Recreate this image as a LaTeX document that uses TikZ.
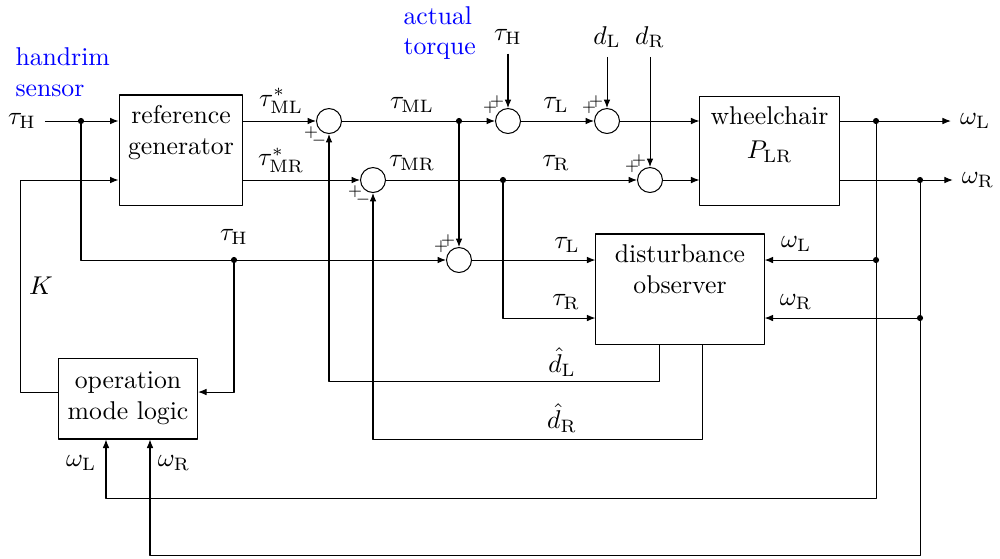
\documentclass[tikz,border=0pt]{standalone}
\usetikzlibrary{arrows.meta}
\begin{document}
\begin{tikzpicture}[x=0.389pt,y=-0.389pt,line join=round,>={Latex[length=3.3pt,width=2.6pt]},
  box/.style={draw,inner sep=0pt},
  sum/.style={draw,circle,minimum size=9.7pt,inner sep=0pt},
  sgn/.style={font=\fontsize{6.5}{7}\selectfont,inner sep=0pt},
  lbl/.style={inner sep=0.5pt},
  note/.style={blue,align=left,anchor=west,inner sep=0pt}]
\useasboundingbox (0,0) rectangle (1000,558);
% blocks
\node[box,minimum width=48.2pt,minimum height=42.8pt] (refgen) at (181,150) {};
\node[below=0.7pt,align=center] (refgentxt) at (refgen.north) {reference\\generator};
\node[box,minimum width=54.1pt,minimum height=42.4pt] (wheel) at (769.5,150.5) {};
\node[below=0.7pt,align=center] (wheeltxt) at (wheel.north) {wheelchair\\[1.2pt]$P_{\mathrm{LR}}$};
\node[box,minimum width=65.4pt,minimum height=42.8pt] (obs) at (680,289) {};
\node[below=0.7pt,align=center] (obstxt) at (obs.north) {disturbance\\observer};
\node[box,minimum width=54.1pt,minimum height=31.5pt,align=center] (opmode) at (128,398.5) {operation\\mode logic};
% summing points
\node[sum] (s1) at (329,121) {};
\node[sum] (s2) at (373,180) {};
\node[sum] (s3) at (508,121) {};
\node[sum] (s4) at (607,121) {};
\node[sum] (s5) at (650,180) {};
\node[sum] (s6) at (459,260) {};
\node[sgn] (s1a) at ([shift={(-18,12)}]s1) {$+$};
\node[sgn] (s1b) at ([shift={(-10,20)}]s1) {$-$};
\node[sgn] (s2a) at ([shift={(-18,12)}]s2) {$+$};
\node[sgn] (s2b) at ([shift={(-10,20)}]s2) {$-$};
\node[sgn] (s3a) at ([shift={(-18,-13)}]s3) {$+$};
\node[sgn] (s3b) at ([shift={(-11,-19)}]s3) {$+$};
\node[sgn] (s4a) at ([shift={(-18,-13)}]s4) {$+$};
\node[sgn] (s4b) at ([shift={(-11,-19)}]s4) {$+$};
\node[sgn] (s5a) at ([shift={(-18,-13)}]s5) {$+$};
\node[sgn] (s5b) at ([shift={(-11,-19)}]s5) {$+$};
\node[sgn] (s6a) at ([shift={(-18,-13)}]s6) {$+$};
\node[sgn] (s6b) at ([shift={(-11,-19)}]s6) {$+$};
% inputs and outputs
\node (tauH) at (22,121) {$\tau_{\mathrm{H}}$};
\node (tauHt) at (508,37) {$\tau_{\mathrm{H}}$};
\node (dL) at (607,37) {$d_{\mathrm{L}}$};
\node (dR) at (650,37) {$d_{\mathrm{R}}$};
\node (wL) at (975,121) {$\omega_{\mathrm{L}}$};
\node (wR) at (978,180) {$\omega_{\mathrm{R}}$};
\node[note] (handrim) at (15,72) {handrim\\sensor};
\node[note] (actual) at (403,33) {actual\\torque};
% branch points
\coordinate (j1) at (81,121);
\coordinate (j2) at (459,121);
\coordinate (j3) at (503,180);
\coordinate (j4) at (876,121);
\coordinate (j5) at (920,180);
\coordinate (j6) at (876,260);
\coordinate (j7) at (920,318);
\coordinate (j8) at (234,260);
\coordinate (wlb) at (106,498);
\coordinate (wrb) at (150,555);
\coordinate (dlc) at (659,381);
\coordinate (drc) at (702,439);
% forward paths
\draw[->] (tauH) -- (tauH -| refgen.west);
\draw[->] (refgen.east |- s1) -- (s1);
\draw[->] (refgen.east |- s2) -- (s2);
\draw[->] (s1) -- (s3);
\draw[->] (s2) -- (s5);
\draw[->] (s3) -- (s4);
\draw[->] (s4) -- (s4 -| wheel.west);
\draw[->] (s5) -- (s5 -| wheel.west);
\draw[->] (tauHt) -- (s3);
\draw[->] (dL) -- (s4);
\draw[->] (dR) -- (s5);
\draw[->] (wheel.east |- wL) -- (wL);
\draw[->] (wheel.east |- wR) -- (wR);
% feedback paths
\draw[->] (j4) |- (wlb) -- (wlb |- opmode.south);
\draw[->] (j5) |- (wrb) -- (wrb |- opmode.south);
\draw[->] (j6) -- (j6 -| obs.east);
\draw[->] (j7) -- (j7 -| obs.east);
\draw[->] (j1) |- (s6);
\draw[->] (j2) -- (s6);
\draw[->] (s6) -- (s6 -| obs.west);
\draw[->] (j3) |- (j7 -| obs.west);
\draw[->] (dlc |- obs.south) -- (dlc) -| (s1);
\draw[->] (drc |- obs.south) -- (drc) -| (s2);
\draw[->] (j8) |- ([shift={(0,-6.5)}]opmode.east);
\draw[->] ([shift={(0,-6.5)}]opmode.west) -- ++(-37,0) |- (refgen.west |- s2);
\foreach \j in {j1,j2,j3,j4,j5,j6,j7,j8} \fill (\j) circle (1.2pt);
% signal labels
\node[lbl] (lMLs) at (281,101) {$\tau^*_{\mathrm{ML}}$};
\node[lbl] (lMRs) at (281,160) {$\tau^*_{\mathrm{MR}}$};
\node[lbl] (lML) at (412,105) {$\tau_{\mathrm{ML}}$};
\node[lbl] (lMR) at (412,163) {$\tau_{\mathrm{MR}}$};
\node[lbl] (lL) at (556,105) {$\tau_{\mathrm{L}}$};
\node[lbl] (lR) at (556,163) {$\tau_{\mathrm{R}}$};
\node[lbl] (lLo) at (567,245) {$\tau_{\mathrm{L}}$};
\node[lbl] (lRo) at (566,302) {$\tau_{\mathrm{R}}$};
\node[lbl] (lwLo) at (796,244) {$\omega_{\mathrm{L}}$};
\node[lbl] (lwRo) at (796,302) {$\omega_{\mathrm{R}}$};
\node[lbl] (ldL) at (562,362) {$\hat{d}_{\mathrm{L}}$};
\node[lbl] (ldR) at (562,418) {$\hat{d}_{\mathrm{R}}$};
\node[lbl] (lH) at (234,237) {$\tau_{\mathrm{H}}$};
\node[lbl] (lK) at (41,286) {$K$};
\node[lbl] (lwL) at (81,463) {$\omega_{\mathrm{L}}$};
\node[lbl] (lwR) at (174,463) {$\omega_{\mathrm{R}}$};
\end{tikzpicture}
\end{document}
